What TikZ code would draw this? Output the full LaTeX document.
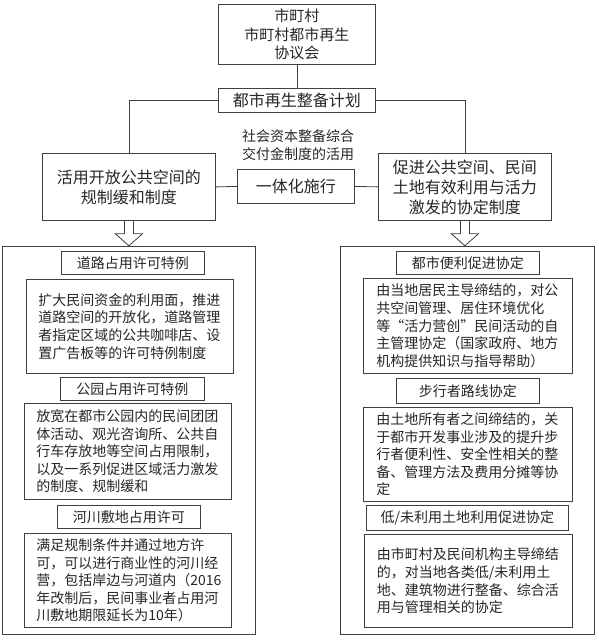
\documentclass[tikz,border=0pt]{standalone}
\usepackage{fontspec}
\setmainfont{Noto Sans CJK SC}
\usepackage{tikz}
\usetikzlibrary{calc}

\begin{document}
\begin{tikzpicture}[x=1pt,y=-1pt,
    box/.style={draw=black!75, line width=0.8pt, text=black!85, inner sep=0pt, anchor=north west, align=center},
    upper/.style={box, font=\fontsize{16}{20}\selectfont},
    title/.style={box, font=\fontsize{14}{17.6}\selectfont},
    body/.style={box, font=\fontsize{14}{17.6}\selectfont, align=left, text width=183pt, inner xsep=12pt},
    wire/.style={draw=black!75, line width=0.8pt}]
    \useasboundingbox (0,0) rectangle (599,640);

    % Upper part
    \node[box, font=\fontsize{15}{18.5}\selectfont, minimum width=157pt, minimum height=60pt] (council) at (218,4) {市町村\\市町村都市再生\\协议会};
    \node[upper, minimum width=157pt, minimum height=24pt] (plan) at (218,88) {都市再生整备计划};
    \node[upper, minimum width=173pt, minimum height=67pt] (deregL) at (42,153) {活用开放公共空间的\\规制缓和制度};
    \node[upper, minimum width=173pt, minimum height=67pt] (agreeR) at (378,153) {促进公共空间、民间\\土地有效利用与活力\\激发的协定制度};
    \node[upper, minimum width=117pt, minimum height=34pt] (joint) at (237,169) {一体化施行};
    \node[text=black!85, font=\fontsize{14}{18}\selectfont, align=center] (fund) at (298,145) {社会资本整备综合\\交付金制度的活用};

    % Connectors
    \draw[wire] (council.south) -- (plan.north);
    \draw[wire] (plan.west) -| (deregL.north);
    \draw[wire] (plan.east) -| (agreeR.north);
    \draw[wire] (deregL.east) -- (joint.west);
    \draw[wire] (joint.east) -- (agreeR.west);

    % Hollow arrows
    \foreach \b in {deregL,agreeR}
        \draw[wire] (\b.south) ++(-4.5,0) -- ++(0,13) -- ++(-9,0) -- ++(13.5,12)
            -- ++(13.5,-12) -- ++(-9,0) -- ++(0,-13);

    % Lower frames
    \node[box, minimum width=253pt, minimum height=388pt] (frameL) at (2,246) {};
    \node[box, minimum width=254pt, minimum height=388pt] (frameR) at (340,246) {};

    % Left column
    \node[title, minimum width=143pt, minimum height=23pt] (roadT) at (61,251) {道路占用许可特例};
    \node[body, minimum height=94pt] (roadB) at (26,279) {扩大民间资金的利用面，推进\\道路空间的开放化，道路管理\\者指定区域的公共咖啡店、设\\置广告板等的许可特例制度};
    \node[title, minimum width=144pt, minimum height=23pt] (parkT) at (60,377) {公园占用许可特例};
    \node[body, minimum height=96pt] (parkB) at (24,403) {放宽在都市公园内的民间团团\\体活动、观光咨询所、公共自\\行车存放地等空间占用限制，\\以及一系列促进区域活力激发\\的制度、规制缓和};
    \node[title, minimum width=143pt, minimum height=23pt] (riverT) at (57,505) {河川敷地占用许可};
    \node[body, minimum height=94pt] (riverB) at (24,533) {满足规制条件并通过地方许\\可，可以进行商业性的河川经\\营，包括岸边与河道内（2016\\年改制后，民间事业者占用河\\川敷地期限延长为10年）};

    % Right column
    \node[title, minimum width=143pt, minimum height=23pt] (cityT) at (396,251) {都市便利促进协定};
    \node[body, inner xsep=13pt, minimum height=95pt] (cityB) at (363,278) {由当地居民主导缔结的，对公\\共空间管理、居住环境优化\\等\makebox[1em][r]{“}活力营创\makebox[1em][l]{”}民间活动的自\\主管理协定（国家政府、地方\\机构提供知识与指导帮助）};
    \node[title, minimum width=143pt, minimum height=25pt] (walkT) at (396,378) {步行者路线协定};
    \node[body, inner xsep=13pt, minimum height=94pt] (walkB) at (363,407) {由土地所有者之间缔结的，关\\于都市开发事业涉及的提升步\\行者便利性、安全性相关的整\\备、管理方法及费用分摊等协\\定};
    \node[title, minimum width=202pt, minimum height=25pt] (landT) at (366,505) {低/未利用土地利用促进协定};
    \node[body, inner xsep=12.5pt, minimum height=93pt] (landB) at (364,534) {由市町村及民间机构主导缔结\\的，对当地各类低/未利用土\\地、建筑物进行整备、综合活\\用与管理相关的协定};
\end{tikzpicture}
\end{document}
